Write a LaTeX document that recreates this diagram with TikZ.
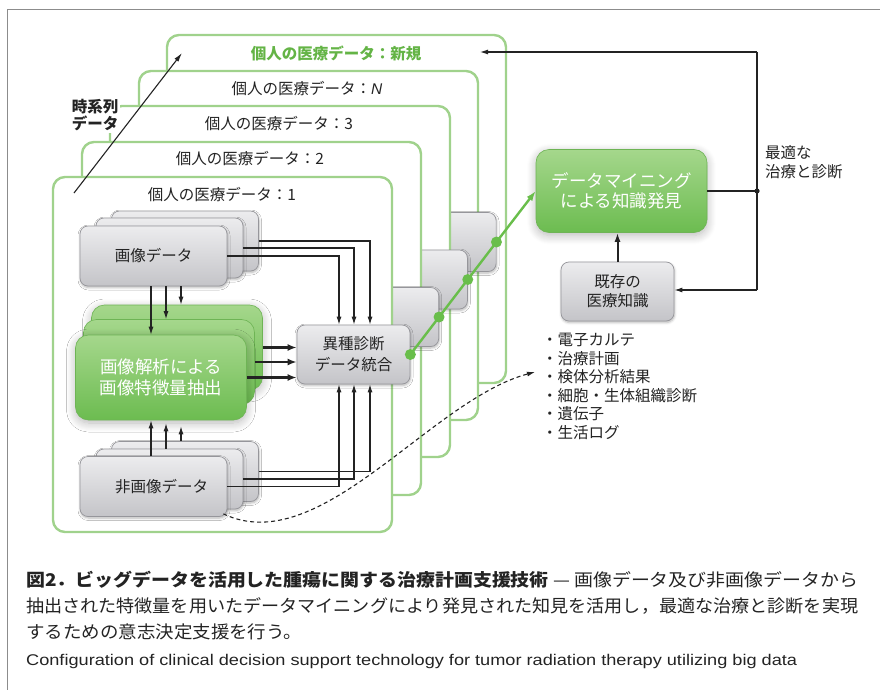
\documentclass[tikz,border=0pt]{standalone}
\usepackage{fontspec}
\usepackage{graphicx}
\setmainfont{Noto Sans CJK JP}
\newfontfamily\lat{Liberation Sans}
\usetikzlibrary{arrows.meta,calc,shadows.blur}
\definecolor{panelg}{RGB}{160,210,140}
\definecolor{labg}{RGB}{100,180,70}
\definecolor{lineg}{RGB}{105,190,75}
\definecolor{grtop}{RGB}{165,215,140}
\definecolor{grbot}{RGB}{108,188,80}
\definecolor{grdraw}{RGB}{110,180,85}
\definecolor{gytop}{RGB}{236,236,238}
\definecolor{gybot}{RGB}{196,196,200}
\definecolor{gydraw}{RGB}{150,150,155}
\definecolor{ink}{RGB}{35,35,35}
\definecolor{framec}{RGB}{140,140,140}
\begin{document}
\begin{tikzpicture}[x=1pt,y=-1pt,
 panel/.style={draw=panelg,line width=2.4pt,fill=white,rounded corners=12pt},
 plabel/.style={font=\fontsize{15.5}{18}\selectfont,text=ink,inner sep=1pt},
 gbox/.style={draw=gydraw,line width=0.7pt,top color=gytop,bottom color=gybot,rounded corners=8pt,inner sep=0pt,text=ink,align=center,font=\fontsize{15.5}{21}\selectfont,blur shadow={shadow blur steps=5,shadow xshift=0.5pt,shadow yshift=-1.5pt,shadow blur radius=2.5pt,shadow blur extra rounding=3pt,shadow opacity=30}},
 bigsz/.style={minimum width=147pt,minimum height=60pt},
 midsz/.style={minimum width=113pt,minimum height=59pt},
 gnbase/.style={draw=grdraw,line width=0.6pt,top color=grtop,bottom color=grbot,rounded corners=13pt,inner sep=0pt,text=white,align=center,font=\fontsize{17.5}{21}\selectfont},
 gnbox/.style={gnbase,blur shadow={shadow blur steps=10,shadow xshift=0pt,shadow yshift=-3pt,shadow blur radius=9pt,shadow blur extra rounding=10pt,shadow opacity=28}},
 tharr/.style={draw=ink,line width=1.1pt,-{Latex[length=8pt,width=5pt]}},
 tkarr/.style={draw=ink,line width=2.4pt,-{Latex[length=9pt,width=7pt]}},
 gdot/.style={circle,fill=lineg,inner sep=0pt,minimum size=11pt},
 txt/.style={font=\fontsize{15.5}{19}\selectfont,text=ink,inner sep=0pt,align=left},
]
\useasboundingbox (0,0) rectangle (880,690);
% frame
\draw[framec,line width=1pt] (7,690) -- (7,10) -- (880,10);

% panel new
\draw[panel] (167,35) rectangle (506,383);
\node[plabel,text=labg,font=\fontsize{15.5}{18}\selectfont\bfseries] (pnew) at (336,53) {個人の医療データ：新規};
% panel N
\draw[panel] (139,71) rectangle (478,420);
\node[plabel] (pN) at (307,89) {個人の医療データ：{\lat\itshape N}};
\node[gbox,midsz] (bN) at (439.6,242) {};
% panel 3
\draw[panel] (110,106) rectangle (450,457);
\node[plabel] (p3) at (279,124) {個人の医療データ：3};
\node[gbox,midsz] (b3) at (410.9,279.5) {};
% panel 2
\draw[panel] (82,142) rectangle (421,495);
\node[plabel] (p2) at (250,159) {個人の医療データ：2};
\node[gbox,midsz] (b2) at (382.2,317) {};
% panel 1
\draw[panel] (53,177) rectangle (392,532);
\node[plabel] (p1) at (222,195) {個人の医療データ：1};

% image data stack
\node[gbox,bigsz] (img3) at (185,241) {};
\node[gbox,bigsz] (img2) at (169.5,248) {};
\node[gbox,bigsz] (img1) at (153.5,256) {画像データ};
% non-image stack
\node[gbox,bigsz] (nimg3) at (185,471.5) {};
\node[gbox,bigsz] (nimg2) at (169.5,479) {};
\node[gbox,bigsz] (nimg1) at (153.5,486.5) {\hspace*{16pt}非画像データ};
% green stack
\node[gnbox,minimum width=171pt,minimum height=85pt] (gr3) at (177,347.5) {};
\node[gnbase,minimum width=171pt,minimum height=85pt] (gr2) at (169,362) {};
\node[gnbox,minimum width=171pt,minimum height=85pt] (gr1) at (161,377.5) {画像解析による\\画像特徴量抽出};
% integration box
\node[gbox,midsz] (ihsh) at (353.5,354.5) {異種診断\\データ統合};

% arrows image -> integration
\draw[tharr] (img3.east) -| ([xshift=16.5pt]ihsh.north);
\draw[tharr] (img2.east) -| ([xshift=0.5pt]ihsh.north);
\draw[tharr] (img1.east) -| ([xshift=-14.5pt]ihsh.north);
% arrows non-image -> integration
\draw[tharr] (nimg3.east) -| ([xshift=16.5pt]ihsh.south);
\draw[tharr] (nimg2.east) -| ([xshift=0.5pt]ihsh.south);
\draw[tharr] (nimg1.east) -| ([xshift=-14.5pt]ihsh.south);
% arrows image -> green
\coordinate (d1) at ([xshift=-2.5pt]img1.south);
\coordinate (d2) at ([xshift=12.5pt]img1.south);
\coordinate (d3) at ([xshift=27.5pt]img1.south);
\draw[tharr] (d1) -- (d1 |- gr1.north);
\draw[tharr] (d2) -- (d2 |- gr2.north);
\draw[tharr] (d3) -- (d3 |- gr3.north);
% arrows non-image -> green
\coordinate (u1) at ([xshift=-2.5pt]nimg1.north);
\coordinate (u2) at ([xshift=-3.5pt]nimg2.north);
\coordinate (u3) at ([xshift=-4pt]nimg3.north);
\draw[tharr] (u1) -- (u1 |- gr1.south);
\draw[tharr] (u2) -- ([yshift=-3pt]u2 |- gr1.south);
\draw[tharr] (u3) -- ([yshift=-6pt]u3 |- gr1.south);
% green -> integration
\draw[tkarr] (gr3.east) -- (gr3.east -| ihsh.west);
\draw[tkarr] (gr2.east) -- (gr2.east -| ihsh.west);
\draw[tkarr] (gr1.east) -- (gr1.east -| ihsh.west);

% right side
\node[gnbox,minimum width=171pt,minimum height=83pt,font=\fontsize{17.5}{20.5}\selectfont] (dm) at (621.5,191) {データマイニング\\による知識発見};
\node[gbox,midsz,font=\fontsize{15.5}{19}\selectfont] (kz) at (617.5,291.5) {既存の\\医療知識};
\draw[draw=ink,line width=2pt,-{Latex[length=9pt,width=6pt]}] (kz.north) -- (kz.north |- dm.south);

% green chain
\draw[lineg,line width=2.4pt,-{Latex[length=10pt,width=7pt]}] (ihsh.east) -- (b2.east) -- (b3.east) -- (bN.east) -- (dm.west);
\node[gdot] (g1) at (ihsh.east) {};
\node[gdot] (g2) at (b2.east) {};
\node[gdot] (g3) at (b3.east) {};
\node[gdot] (g4) at (bN.east) {};

% feedback
\coordinate (jn) at (757,191);
\coordinate (jt) at (757,52);
\coordinate (jb) at (757,290);
\coordinate (newin) at (480,52);
\draw[ink,line width=2.4pt] (dm.east) -- (jn);
\draw[ink,line width=1.1pt] (jt) -- (jb);
\fill[ink] (jn) circle (2.6pt);
\draw[tharr] (jt) -- (newin);
\draw[tharr] (jb) -- (jb -| kz.east);
\node[txt,anchor=west] (opt) at (765,162.5) {最適な\\治療と診断};

% bullet list
\node[txt,anchor=north west,font=\fontsize{15.5}{18.5}\selectfont] (blist) at (542,333) {・電子カルテ\\・治療計画\\・検体分析結果\\・細胞・生体組織診断\\・遺伝子\\・生活ログ};
\coordinate (de) at (535,372);
\draw[ink,line width=1.1pt,dash pattern=on 4pt off 3pt,-{Latex[length=8pt,width=5pt]}] ([xshift=-4pt,yshift=3pt]nimg1.south east) .. controls (320,560) and (430,400) .. (de);

% time series
\node[fill=white,inner sep=2pt,align=center,text=ink,font=\fontsize{15.5}{16.5}\selectfont\bfseries] (tl) at (95,115) {時系列\\データ};
\coordinate (ts) at (74,193);
\coordinate (te) at (182,53);
\draw[ink,line width=1.1pt,-{Latex[length=9pt,width=5pt]}] (ts) -- (te);

% caption
\node[anchor=west,inner sep=0pt,text=ink] (cap1) at (26,580) {\resizebox{832pt}{\height}{\fontsize{17.5}{20}\selectfont{\bfseries 図2．ビッグデータを活用した腫瘍に関する治療計画支援技術} — 画像データ及び非画像データから}};
\node[anchor=west,inner sep=0pt,text=ink] (cap2) at (26,606) {\resizebox{832pt}{\height}{\fontsize{17.5}{20}\selectfont 抽出された特徴量を用いたデータマイニングにより発見された知見を活用し，最適な治療と診断を実現}};
\node[anchor=west,inner sep=0pt,text=ink] (cap3) at (26,632) {\scalebox{1.056}[1]{\fontsize{17.5}{20}\selectfont するための意志決定支援を行う。}};
\node[anchor=west,inner sep=0pt,text=ink] (cap4) at (26,661) {\resizebox{771pt}{\height}{\lat\fontsize{15.5}{18}\selectfont Configuration of clinical decision support technology for tumor radiation therapy utilizing big data}};
\end{tikzpicture}
\end{document}
